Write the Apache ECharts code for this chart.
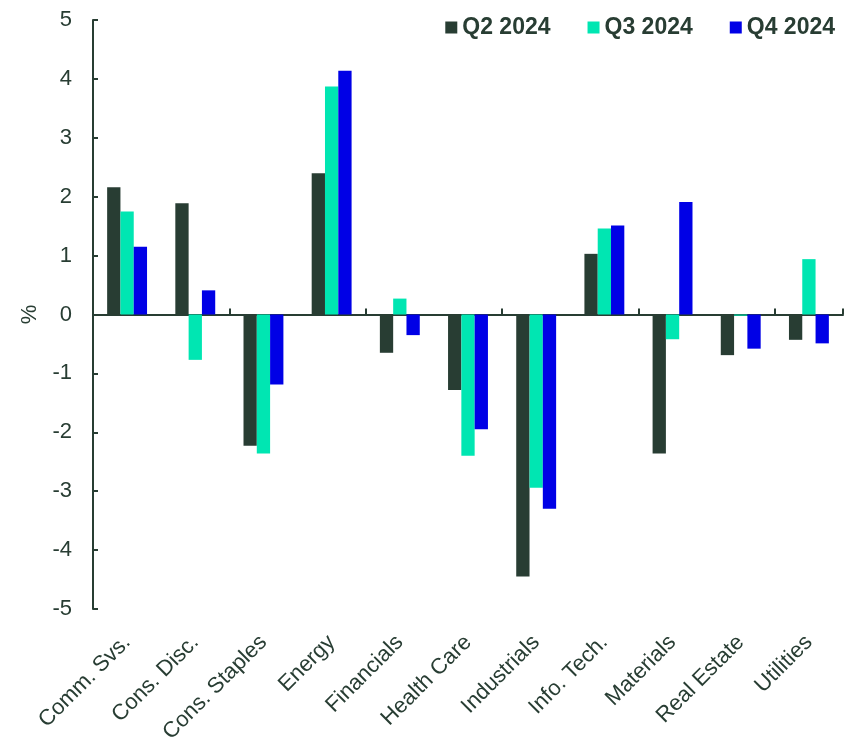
<!DOCTYPE html>
<html>
<head>
<meta charset="utf-8">
<script src="https://cdn.jsdelivr.net/npm/echarts@6/dist/echarts.min.js"></script>
<style>html,body{margin:0;padding:0;background:#fff;}#c{width:854px;height:742px;}</style>
</head>
<body>
<div id="c"></div>
<script>
const categories = ['Comm. Svs.','Cons. Disc.','Cons. Staples','Energy','Financials','Health Care','Industrials','Info. Tech.','Materials','Real Estate','Utilities'];
const q2_2024 = [2.16, 1.89, -2.23, 2.40, -0.65, -1.28, -4.45, 1.03, -2.36, -0.69, -0.43];
const q3_2024 = [1.75, -0.77, -2.36, 3.87, 0.27, -2.40, -2.94, 1.46, -0.42, -0.02, 0.94];
const q4_2024 = [1.15, 0.41, -1.19, 4.14, -0.35, -1.95, -3.30, 1.51, 1.91, -0.58, -0.49];
const seriesNames = ['Q2 2024','Q3 2024','Q4 2024'];
const yTicks = [-5,-4,-3,-2,-1,0,1,2,3,4,5];

const txt = '#283d33';
const font = 'Liberation Sans, Arial, sans-serif';
const colors = ['#283d33','#00e6b2','#0000e6'];
const chart = echarts.init(document.getElementById('c'));
const mk = (name, data, color) => ({
  name, type: 'bar', data, xAxisIndex: 0,
  itemStyle: { color },
  barWidth: 13.3, barGap: '0%',
  emphasis: { disabled: true }
});
chart.setOption({
  animation: false,
  color: colors,
  grid: { left: 93, right: 11, top: 20, bottom: 133, containLabel: false, outerBoundsMode: 'none' },
  legend: {
    right: 14, top: 11, itemWidth: 12, itemHeight: 12, itemGap: 37,
    icon: 'rect',
    data: seriesNames,
    textStyle: { color: txt, fontSize: 23, fontWeight: 'bold', fontFamily: font }
  },
  xAxis: [
    {
      type: 'category', data: categories, position: 'bottom',
      axisLine: { onZero: true, lineStyle: { color: txt, width: 2 } },
      axisTick: { show: true, inside: true, length: 6, lineStyle: { color: txt, width: 2 } },
      axisLabel: { show: false }
    },
    {
      type: 'category', data: categories, position: 'bottom',
      axisLine: { show: false, onZero: false },
      axisTick: { show: false },
      axisLabel: {
        show: true, rotate: 45, interval: 0, margin: 30,
        color: txt, fontSize: 22, fontFamily: font
      }
    }
  ],
  yAxis: {
    type: 'value', min: yTicks[0], max: yTicks[yTicks.length-1], interval: 1,
    name: '%', nameLocation: 'middle', nameGap: 52, nameRotate: 90,
    nameTextStyle: { color: txt, fontSize: 22, fontFamily: font },
    axisLine: { show: true, lineStyle: { color: txt, width: 2 } },
    axisTick: { show: true, inside: true, length: 5, lineStyle: { color: txt, width: 2 } },
    axisLabel: { color: txt, fontSize: 22, fontFamily: font, margin: 21 },
    splitLine: { show: false }
  },
  series: [
    mk(seriesNames[0], q2_2024, colors[0]),
    mk(seriesNames[1], q3_2024, colors[1]),
    mk(seriesNames[2], q4_2024, colors[2])
  ]
});
</script>
</body>
</html>
